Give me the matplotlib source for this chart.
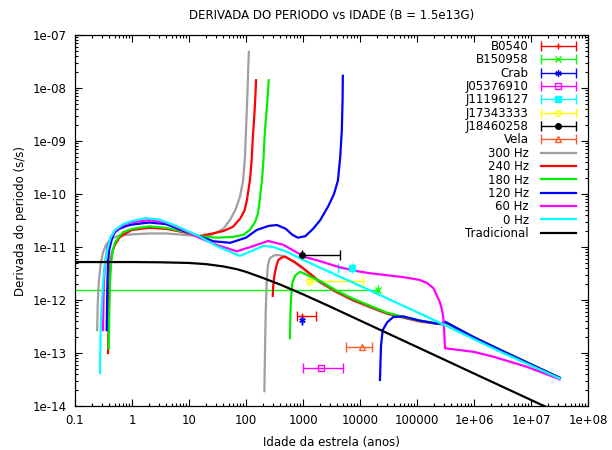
import numpy as np
import matplotlib
matplotlib.use("Agg")
import matplotlib.pyplot as plt
from matplotlib.container import ErrorbarContainer
from matplotlib.legend_handler import HandlerErrorbar
from matplotlib.ticker import FixedLocator, FixedFormatter, LogLocator, NullFormatter

nan = np.nan

# pulsares observados (idade, limites da idade, derivada do periodo)
psr_names = ["B0540", "B150958", "Crab", "J05376910", "J11196127",
             "J17343333", "J18460258", "Vela"]
psr_age = [975, 2.1e4, 960, 2040, 7150, 1290, 950, 1.1e4]
psr_age_lo = [770, 1e-3, 960, 1010, 4170, 1290, 950, 5600]
psr_age_hi = [1700, 2.1e4, 960, 5100, 7150, 1.15e4, 4460, 1.6e4]
psr_pdot = [5.0e-13, 1.55e-12, 4.2e-13, 5.1e-14, 4.1e-12, 2.31e-12, 7.2e-12, 1.29e-13]

psr_colors = ["#ff0000", "#00ff00", "#0000ff", "#ff00ff", "#00ffff",
              "#ffff00", "#000000", "#ff5a2a"]
psr_markers = ["+", "x", (6, 2, 0), "s", "s", "o", "o", "^"]
psr_filled = [True, True, True, False, True, False, True, False]

# curvas do modelo (nan separa os dois ramos)
t_300 = [0.245, 0.25, 0.26, 0.28, 0.31, 0.35, 0.42, 0.55, 0.8, 1.2, 2, 4, 8, 15, 25, 40,
         53, 65, 78, 89, 96, 100, 105, 109, 112,
         nan,
         210, 215, 222, 230, 240, 250, 265, 300, 345, 480, 700, 1010, 1990, 3900, 7630,
         1.5e4, 2.94e4, 5.75e4, 1.12e5, 2.2e5, 2.9e5, 3.1e5, 1e6, 3e6, 1e7, 3.2e7]
p_300 = [2.7e-13, 8e-13, 2e-12, 4.5e-12, 8e-12, 1.1e-11, 1.4e-11, 1.6e-11, 1.7e-11, 1.75e-11,
         1.8e-11, 1.8e-11, 1.7e-11, 1.6e-11, 1.7e-11, 2.2e-11,
         3.3e-11, 5e-11, 8.7e-11, 1.8e-10, 5e-10, 1.6e-9, 6e-9, 2e-8, 4.8e-8,
         nan,
         1.9e-14, 1e-13, 6e-13, 2e-12, 4e-12, 5.3e-12, 6.2e-12, 6.8e-12, 7.1e-12, 6.7e-12,
         5.1e-12, 3.85e-12, 2.12e-12, 1.38e-12, 9.6e-13,
         7.2e-13, 5.5e-13, 4.6e-13, 3.9e-13, 3.55e-13, 3.45e-13, 3.8e-13, 1.95e-13,
         1.11e-13, 6.1e-14, 3.4e-14]

t_240 = [0.38, 0.39, 0.4, 0.42, 0.45, 0.5, 0.6, 0.7, 1, 2, 4, 8, 15, 26, 40, 59, 80, 95,
         104, 117, 125, 132, 140, 146, 150,
         nan,
         295, 300, 310, 324, 345, 370, 420, 483, 700, 1010, 1990, 3900, 7630, 1.5e4,
         2.94e4, 5.75e4, 1.12e5, 2.2e5, 2.9e5, 3.1e5, 1e6, 3e6, 1e7, 3.2e7]
p_240 = [1e-13, 5e-13, 2e-12, 5.2e-12, 8e-12, 1.1e-11, 1.5e-11, 1.7e-11, 2.1e-11, 2.3e-11,
         2.2e-11, 1.9e-11, 1.6e-11, 1.8e-11, 2.0e-11, 2.4e-11, 3.5e-11, 5e-11,
         7.8e-11, 1.8e-10, 4e-10, 1.2e-9, 3e-9, 7e-9, 1.4e-8,
         nan,
         1.2e-12, 1.8e-12, 2.6e-12, 3.4e-12, 4.6e-12, 5.7e-12, 6.3e-12, 6.56e-12, 5.3e-12,
         3.98e-12, 2.21e-12, 1.43e-12, 1.0e-12, 7.5e-13,
         5.6e-13, 4.7e-13, 4.0e-13, 3.6e-13, 3.5e-13, 3.8e-13, 1.97e-13, 1.12e-13,
         6.1e-14, 3.4e-14]

t_180 = [0.39, 0.4, 0.41, 0.43, 0.46, 0.5, 0.6, 0.7, 1, 2, 4, 8, 15, 30, 59, 90, 117, 145,
         163, 175, 190, 200, 215, 235, 250,
         nan,
         590, 600, 615, 650, 730, 885, 1515, 1990, 3900, 7630, 1.5e4, 2.94e4, 5.75e4,
         1.12e5, 2.2e5, 2.9e5, 3.1e5, 1e6, 3e6, 1e7, 3.2e7]
p_180 = [1.2e-13, 6e-13, 2e-12, 5e-12, 8.5e-12, 1.2e-11, 1.6e-11, 1.9e-11, 2.2e-11,
         2.45e-11, 2.3e-11, 1.95e-11, 1.6e-11, 1.5e-11, 1.55e-11, 1.7e-11, 2.1e-11, 3e-11,
         4.4e-11, 8e-11, 1.8e-10, 3.5e-10, 1.6e-9, 5e-9, 1.4e-8,
         nan,
         1.9e-13, 5e-13, 1e-12, 2.1e-12, 2.9e-12, 3.42e-12, 2.6e-12, 2.3e-12, 1.5e-12,
         1.05e-12, 7.8e-13, 5.8e-13, 4.8e-13,
         4.1e-13, 3.65e-13, 3.55e-13, 3.85e-13, 1.98e-13, 1.13e-13, 6.15e-14, 3.4e-14]

t_120 = [0.36, 0.365, 0.37, 0.38, 0.4, 0.45, 0.5, 0.6, 0.8, 1, 2, 4, 8, 15, 27, 53, 100,
         155, 250, 350, 500, 650, 810, 1100, 1500, 2000, 2800, 3500, 4100, 4500, 4800,
         4950, 5000,
         nan,
         2.24e4, 2.3e4, 2.34e4, 2.5e4, 3e4, 3.85e4, 5.75e4, 1.1e5, 2.2e5, 2.9e5, 3.1e5,
         1e6, 3e6, 1e7, 3.2e7]
p_120 = [2.7e-13, 8e-13, 2e-12, 5.2e-12, 9e-12, 1.5e-11, 1.9e-11, 2.2e-11, 2.5e-11,
         2.65e-11, 2.9e-11, 2.7e-11, 2.0e-11, 1.6e-11, 1.28e-11, 1.2e-11, 1.5e-11,
         2.1e-11, 2.5e-11, 2.6e-11, 2.2e-11, 1.7e-11, 1.5e-11, 1.6e-11, 2.2e-11, 3.2e-11,
         6e-11, 1.0e-10, 1.8e-10, 5e-10, 1.6e-9, 6e-9, 1.7e-8,
         nan,
         3.1e-14, 8e-14, 1.4e-13, 2.7e-13, 3.8e-13, 4.8e-13, 4.9e-13, 4.1e-13, 3.6e-13,
         3.6e-13, 3.9e-13, 1.98e-13, 1.12e-13, 6.1e-14, 3.4e-14]

t_60 = [0.31, 0.315, 0.32, 0.33, 0.34, 0.37, 0.42, 0.5, 0.7, 1, 2, 4, 8, 15, 30, 69, 120,
        245, 450, 890, 1010, 2000, 3900, 7600, 1.5e4, 5.75e4, 1.1e5, 1.5e5, 1.95e5, 2.5e5,
        2.75e5, 2.9e5, 3.0e5, 3.1e5, 1e6, 2.2e6, 8.4e6, 3.2e7]
p_60 = [2.7e-13, 8e-13, 2e-12, 3.5e-12, 5.2e-12, 1e-11, 1.5e-11, 2e-11, 2.6e-11, 2.95e-11,
        3.2e-11, 2.9e-11, 2.1e-11, 1.5e-11, 1.1e-11, 8.3e-12, 1.0e-11,
        1.3e-11, 1.1e-11, 7.3e-12, 6.6e-12, 5.4e-12, 4.3e-12, 3.6e-12, 3.2e-12, 2.7e-12,
        2.4e-12, 2.1e-12, 1.66e-12, 9.3e-13,
        6.5e-13, 4.5e-13, 2.5e-13, 1.23e-13, 1.05e-13, 8.5e-14, 5.5e-14, 3.2e-14]

t_0 = [0.275, 0.28, 0.29, 0.31, 0.335, 0.37, 0.42, 0.5, 0.7, 1, 1.7, 3, 6, 10, 15, 30, 78,
       130, 200, 300, 500, 1010, 1e4, 1e5, 3e5, 1e6, 3e6, 1e7, 3.2e7]
p_0 = [4.2e-14, 2e-13, 6e-13, 2e-12, 5e-12, 9e-12, 1.5e-11, 2.1e-11, 2.7e-11, 3.1e-11,
       3.5e-11, 3.3e-11, 2.5e-11, 1.95e-11, 1.6e-11, 1.05e-11, 6.8e-12,
       8.5e-12, 1.05e-11, 1.0e-11, 8.3e-12, 5.7e-12, 1.85e-12, 5.9e-13, 3.4e-13, 1.82e-13,
       1.04e-13, 5.8e-14, 3.3e-14]

t_trad = [0.1, 1, 3, 10, 20, 40, 70, 100, 200, 400, 1000, 3000, 1e4, 1e5, 1e6, 1e7, 2e7]
p_trad = [5.2e-12, 5.2e-12, 5.15e-12, 5.0e-12, 4.75e-12, 4.3e-12, 3.8e-12, 3.4e-12,
          2.6e-12, 1.95e-12, 1.28e-12, 7.5e-13, 4.1e-13, 1.3e-13, 4.1e-14, 1.3e-14, 9.2e-15]

curve_labels = ["300 Hz", "240 Hz", "180 Hz", "120 Hz", "60 Hz", "0 Hz", "Tradicional"]
curve_t = [t_300, t_240, t_180, t_120, t_60, t_0, t_trad]
curve_p = [p_300, p_240, p_180, p_120, p_60, p_0, p_trad]
curve_colors = ["#a0a0a0", "#ff0000", "#00ee00", "#0000ff", "#ff00ff", "#00ffff", "#000000"]

x_ticks = [0.1, 1, 10, 100, 1000, 1e4, 1e5, 1e6, 1e7, 1e8]
x_ticklabels = ["0.1", "1", "10", "100", "1000", "10000", "100000",
                "1e+06", "1e+07", "1e+08"]
y_ticks = [1e-14, 1e-13, 1e-12, 1e-11, 1e-10, 1e-9, 1e-8, 1e-7]
y_ticklabels = ["1e-14", "1e-13", "1e-12", "1e-11", "1e-10", "1e-09", "1e-08", "1e-07"]

fs = 8.5
fig = plt.figure(figsize=(6.12, 4.5), dpi=100)
ax = fig.add_axes([75 / 612, 44 / 450, 513 / 612, 371 / 450])
ax.set_xscale("log")
ax.set_yscale("log")

handles = []
for name, a, lo, hi, pd, c, m, filled in zip(psr_names, psr_age, psr_age_lo, psr_age_hi,
                                           psr_pdot, psr_colors, psr_markers, psr_filled):
    ms = 4.5 if m in ("+", "x") or isinstance(m, tuple) else 4
    h = ax.errorbar([a], [pd], xerr=[[a - lo], [hi - a]], marker=m, linestyle="none",
                    color=c, ms=ms, mfc=c if filled else "none", mec=c, mew=1,
                    elinewidth=1, capsize=3.5, capthick=1, label=name)
    handles.append(h)

for t, p, c, lab in zip(curve_t, curve_p, curve_colors, curve_labels):
    ln, = ax.plot(t, p, color=c, lw=1.6, label=lab)
    handles.append(ln)

ax.set_xlim(0.1, 1e8)
ax.set_ylim(1e-14, 1e-7)
ax.xaxis.set_major_locator(FixedLocator(x_ticks))
ax.xaxis.set_major_formatter(FixedFormatter(x_ticklabels))
ax.yaxis.set_major_locator(FixedLocator(y_ticks))
ax.yaxis.set_major_formatter(FixedFormatter(y_ticklabels))
for axis in (ax.xaxis, ax.yaxis):
    axis.set_minor_locator(LogLocator(base=10, subs=np.arange(2, 10), numticks=20))
    axis.set_minor_formatter(NullFormatter())
ax.tick_params(which="both", direction="in", top=True, right=True, labelsize=fs)
ax.tick_params(which="major", length=5, width=0.8, pad=6)
ax.tick_params(which="minor", length=2.5, width=0.8)
for s in ax.spines.values():
    s.set_linewidth(0.9)

ax.set_xlabel("Idade da estrela (anos)", fontsize=fs, labelpad=6)
ax.set_ylabel("Derivada do periodo (s/s)", fontsize=fs, labelpad=4)
fig.text(331.5 / 612, 1 - 15 / 450, "DERIVADA DO PERIODO vs IDADE (B = 1.5e13G)",
         ha="center", va="center", fontsize=fs)

leg = ax.legend(handles, psr_names + curve_labels,
                loc="upper right", bbox_to_anchor=(576 / 612, 1 - 40 / 450),
                bbox_transform=fig.transFigure, frameon=False, fontsize=fs,
                markerfirst=False, handlelength=3.0, handletextpad=1.0,
                labelspacing=0.03, borderpad=0, borderaxespad=0, numpoints=1,
                handler_map={ErrorbarContainer: HandlerErrorbar(xerr_size=1.5, numpoints=1)})

fig.savefig("out.png", dpi=100)
